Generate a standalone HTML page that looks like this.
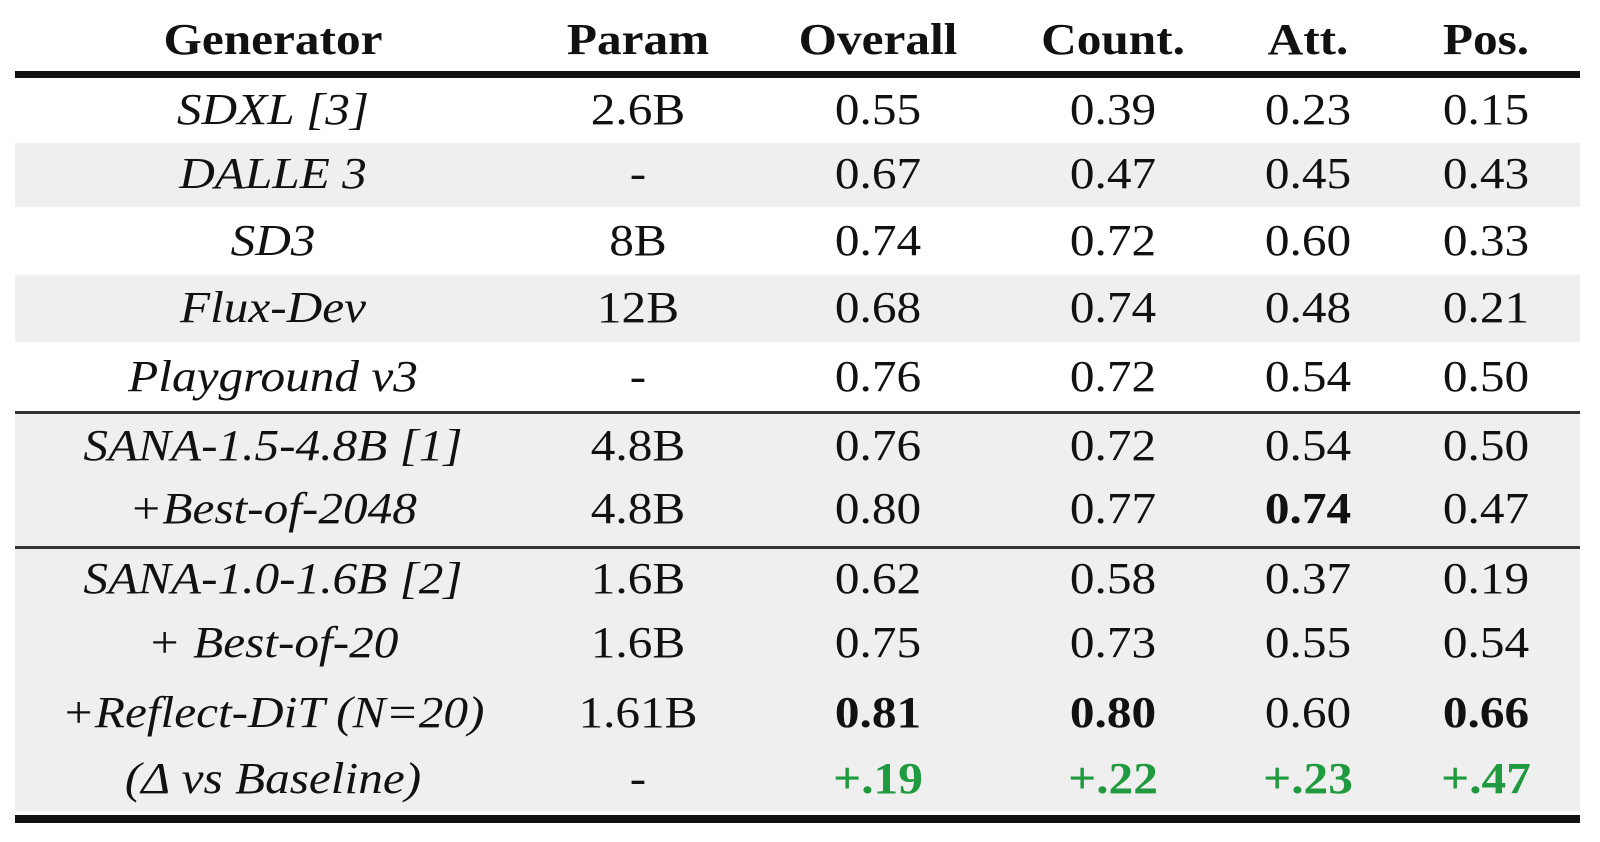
<!DOCTYPE html>
<html><head><meta charset="utf-8"><style>
html,body{margin:0;padding:0;background:#fff;}
body{width:1600px;height:842px;position:relative;overflow:hidden;font-family:"Liberation Serif",serif;color:#111;}
.band{position:absolute;left:15px;width:1565px;background:#efefef;}
.rule{position:absolute;left:15px;width:1565px;background:#111;}
.c{position:absolute;height:60px;line-height:60px;font-size:44px;white-space:nowrap;transform:translateX(-50%) scaleX(1.12);}
.h{font-weight:bold;}
.i{font-style:italic;}
.b{font-weight:bold;}
.g{color:#1f9a3e;font-weight:bold;}
</style></head><body>
<div class="band" style="top:143px;height:64px"></div>
<div class="band" style="top:275px;height:67px"></div>
<div class="band" style="top:414px;height:132px"></div>
<div class="band" style="top:549px;height:262px"></div>
<div class="rule" style="top:71px;height:7px"></div>
<div class="rule" style="top:411px;height:3px;background:#333"></div>
<div class="rule" style="top:546px;height:3px;background:#333"></div>
<div class="rule" style="top:815px;height:8px"></div>
<div id="t"></div>
<script>
var cols=[273,638,878,1113,1308,1486];
var rows=[
[40,"h",["Generator","Param","Overall","Count.","Att.","Pos."]],
[110,"",["SDXL [3]","2.6B","0.55","0.39","0.23","0.15"]],
[174,"",["DALLE 3","-","0.67","0.47","0.45","0.43"]],
[241,"",["SD3","8B","0.74","0.72","0.60","0.33"]],
[308,"",["Flux-Dev","12B","0.68","0.74","0.48","0.21"]],
[377,"",["Playground v3","-","0.76","0.72","0.54","0.50"]],
[446,"",["SANA-1.5-4.8B [1]","4.8B","0.76","0.72","0.54","0.50"]],
[509,"",["+Best-of-2048","4.8B","0.80","0.77","*0.74","0.47"]],
[579,"",["SANA-1.0-1.6B [2]","1.6B","0.62","0.58","0.37","0.19"]],
[643,"",["+ Best-of-20","1.6B","0.75","0.73","0.55","0.54"]],
[713,"",["+Reflect-DiT (N=20)","1.61B","*0.81","*0.80","0.60","*0.66"]],
[779,"",["(\u0394 vs Baseline)","-","#+.19","#+.22","#+.23","#+.47"]]
];
var h="";
rows.forEach(function(r){r[2].forEach(function(t,j){
var cl="c "+r[1];
if(r[1]==""&&j==0)cl+=" i";
if(t[0]=="*"){cl+=" b";t=t.slice(1);}
if(t[0]=="#"){cl+=" g";t=t.slice(1);}
h+='<div class="'+cl+'" style="left:'+cols[j]+'px;top:'+(r[0]-30)+'px">'+t+'</div>';
});});
document.getElementById("t").innerHTML=h;
</script>
</body></html>
